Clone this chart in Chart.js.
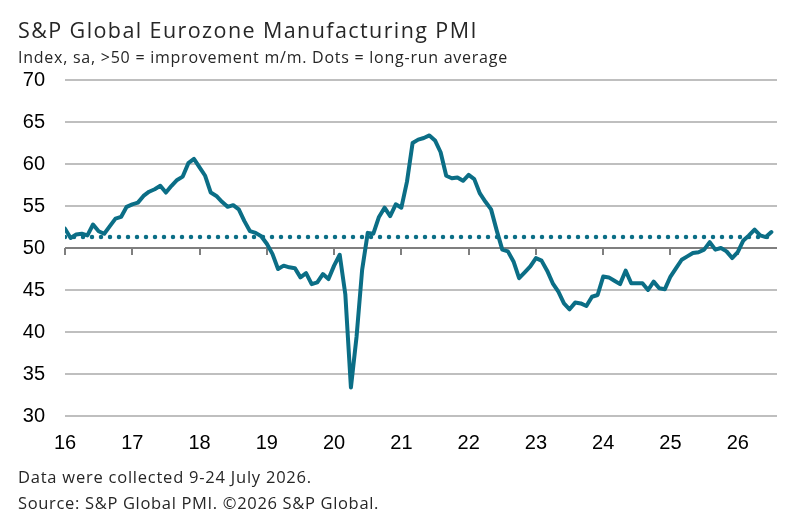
<!DOCTYPE html>
<html lang="en">
<head>
    <meta charset="UTF-8">
    <title>S&amp;P Global Eurozone Manufacturing PMI</title>
    <script src="https://cdn.jsdelivr.net/npm/chart.js"></script>
    <style>
        html, body { margin: 0; padding: 0; background: #fff; }
        #grafico { display: block; }
    </style>
</head>
<body>
    <canvas id="grafico" width="811" height="532"></canvas>

    <script>
        // monthly PMI, Jan 2016 .. Jul 2026
        const pmi = [
            52.3, 51.2, 51.6, 51.7, 51.5, 52.8, 52.0, 51.7, 52.6, 53.5, 53.7, 54.9,
            55.2, 55.4, 56.2, 56.7, 57.0, 57.4, 56.6, 57.4, 58.1, 58.5, 60.1, 60.6,
            59.6, 58.6, 56.6, 56.2, 55.5, 54.9, 55.1, 54.6, 53.2, 52.0, 51.8, 51.4,
            50.5, 49.3, 47.5, 47.9, 47.7, 47.6, 46.5, 47.0, 45.7, 45.9, 46.9, 46.3,
            47.9, 49.2, 44.5, 33.4, 39.4, 47.4, 51.8, 51.7, 53.7, 54.8, 53.8, 55.2,
            54.8, 57.9, 62.5, 62.9, 63.1, 63.4, 62.8, 61.4, 58.6, 58.3, 58.4, 58.0,
            58.7, 58.2, 56.5, 55.5, 54.6, 52.1, 49.8, 49.6, 48.4, 46.4, 47.1, 47.8,
            48.8, 48.5, 47.3, 45.8, 44.8, 43.4, 42.7, 43.5, 43.4, 43.1, 44.2, 44.4,
            46.6, 46.5, 46.1, 45.7, 47.3, 45.8, 45.8, 45.8, 45.0, 46.0, 45.2, 45.1,
            46.6, 47.6, 48.6, 49.0, 49.4, 49.5, 49.8, 50.7, 49.8, 50.0, 49.6, 48.8,
            49.5, 50.9, 51.5, 52.2, 51.5, 51.3, 51.9
        ];
        const mediaLongoPrazo = 51.3;
        const anos = ['16', '17', '18', '19', '20', '21', '22', '23', '24', '25', '26'];
        const yTicks = [30, 35, 40, 45, 50, 55, 60, 65, 70];

        const titulo = 'S&P Global Eurozone Manufacturing PMI';
        const subtitulo = 'Index, sa, >50 = improvement m/m. Dots = long-run average';
        const rodape = [
            'Data were collected 9-24 July 2026.',
            'Source: S&P Global PMI. \u00A92026 S&P Global.'
        ];

        const corLinha = '#0b6e86';
        const corTexto = '#262626';
        const fonteTexto = '"Open Sans", "Liberation Sans", sans-serif';

        // texto com largura ajustada (letterSpacing) para bater com a referência
        function escreve(ctx, txt, x, y, tam, largura) {
            ctx.font = tam + 'px ' + fonteTexto;
            ctx.letterSpacing = '0px';
            const w = ctx.measureText(txt).width;
            ctx.letterSpacing = ((largura - w) / txt.length).toFixed(2) + 'px';
            ctx.fillText(txt, x, y);
        }

        const textos = {
            id: 'textos',
            afterDraw(chart) {
                const ctx = chart.ctx;
                ctx.save();
                ctx.fillStyle = corTexto;
                ctx.textBaseline = 'alphabetic';
                ctx.textAlign = 'left';
                escreve(ctx, titulo, 18, 38, 21.5, 460);
                escreve(ctx, subtitulo, 18, 63, 16, 490);
                escreve(ctx, rodape[0], 18, 483, 16.5, 294);
                escreve(ctx, rodape[1], 18, 509, 16.5, 361);
                ctx.restore();
            }
        };

        // tracinhos dos anos no eixo (linha do 50)
        const marcasAno = {
            id: 'marcasAno',
            beforeDatasetsDraw(chart) {
                const ctx = chart.ctx;
                const x = chart.scales.x, y = chart.scales.y;
                const y50 = y.getPixelForValue(50);
                ctx.save();
                ctx.strokeStyle = '#7f7f7f';
                ctx.lineWidth = 2;
                anos.forEach((a, i) => {
                    const px = Math.round(x.getPixelForValue(i * 12));
                    ctx.beginPath();
                    ctx.moveTo(px, y50);
                    ctx.lineTo(px, y50 + 7);
                    ctx.stroke();
                });
                ctx.restore();
            }
        };

        const grafico = new Chart(document.getElementById('grafico'), {
            type: 'line',
            data: {
                datasets: [{
                    label: 'PMI',
                    data: pmi.map((v, i) => ({ x: i, y: v })),
                    borderColor: corLinha,
                    borderWidth: 4,
                    borderJoinStyle: 'round',
                    borderCapStyle: 'round',
                    pointRadius: 0,
                    tension: 0
                }, {
                    label: 'Long-run average',
                    data: [{ x: 0, y: mediaLongoPrazo }, { x: pmi.length - 1, y: mediaLongoPrazo }],
                    borderColor: corLinha,
                    borderWidth: 4.5,
                    borderDash: [0, 9],
                    borderCapStyle: 'round',
                    pointRadius: 0
                }]
            },
            options: {
                responsive: false,
                animation: false,
                layout: { padding: { top: 80, right: 34, bottom: 72, left: 0 } },
                plugins: {
                    legend: { display: false },
                    tooltip: { enabled: false }
                },
                scales: {
                    x: {
                        type: 'linear',
                        min: 0,
                        max: pmi.length,
                        afterBuildTicks: (s) => { s.ticks = anos.map((a, i) => ({ value: i * 12 })); },
                        afterFit: (s) => { s.height = 44; },
                        grid: { display: false, drawTicks: false },
                        border: { display: false },
                        ticks: {
                            autoSkip: false,
                            maxRotation: 0,
                            padding: 15,
                            color: '#000',
                            font: { family: '"Liberation Sans", Arial, sans-serif', size: 20 },
                            callback: (v) => anos[v / 12]
                        }
                    },
                    y: {
                        min: 30,
                        max: 70,
                        afterBuildTicks: (s) => { s.ticks = yTicks.map(v => ({ value: v })); },
                        afterFit: (s) => { s.width = 65; },
                        grid: {
                            drawTicks: false,
                            lineWidth: 2,
                            color: (c) => c.tick && c.tick.value === 50 ? '#7f7f7f' : '#bfbfbf'
                        },
                        border: { display: false },
                        ticks: {
                            padding: 20,
                            color: '#000',
                            font: { family: '"Liberation Sans", Arial, sans-serif', size: 20 }
                        }
                    }
                }
            },
            plugins: [marcasAno, textos]
        });
    </script>
</body>
</html>
